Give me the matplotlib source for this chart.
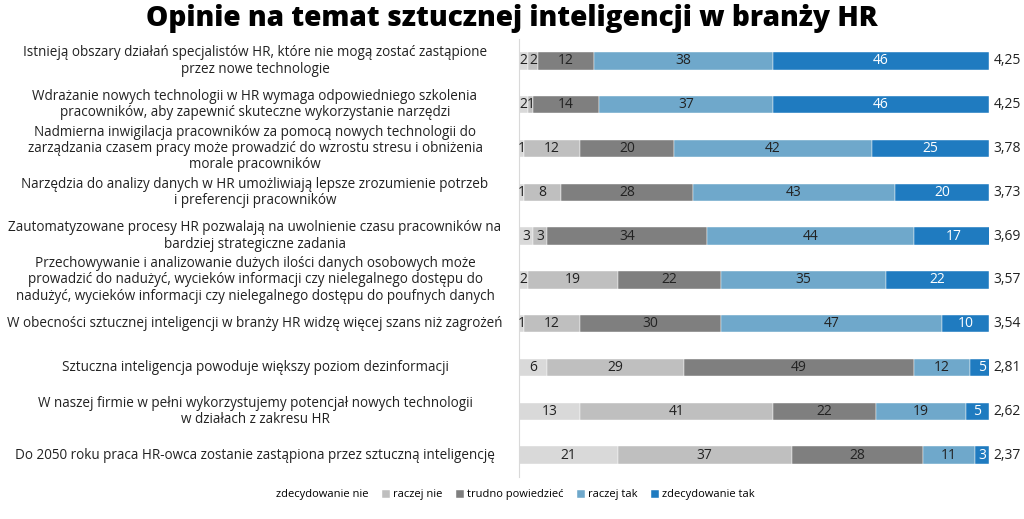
import matplotlib.pyplot as plt
from matplotlib import transforms

plt.rcParams['font.family'] = ['Open Sans', 'DejaVu Sans']

statements = [
    "Istnieją obszary działań specjalistów HR, które nie mogą zostać zastąpione\nprzez nowe technologie",
    "Wdrażanie nowych technologii w HR wymaga odpowiedniego szkolenia\npracowników, aby zapewnić skuteczne wykorzystanie narzędzi",
    "Nadmierna inwigilacja pracowników za pomocą nowych technologii do\nzarządzania czasem pracy może prowadzić do wzrostu stresu i obniżenia\nmorale pracowników",
    "Narzędzia do analizy danych w HR umożliwiają lepsze zrozumienie potrzeb\ni preferencji pracowników",
    "Zautomatyzowane procesy HR pozwalają na uwolnienie czasu pracowników na\nbardziej strategiczne zadania",
    "Przechowywanie i analizowanie dużych ilości danych osobowych może\nprowadzić do nadużyć, wycieków informacji czy nielegalnego dostępu do\nnadużyć, wycieków informacji czy nielegalnego dostępu do poufnych danych",
    "W obecności sztucznej inteligencji w branży HR widzę więcej szans niż zagrożeń",
    "Sztuczna inteligencja powoduje większy poziom dezinformacji",
    "W naszej firmie w pełni wykorzystujemy potencjał nowych technologii\nw działach z zakresu HR",
    "Do 2050 roku praca HR-owca zostanie zastąpiona przez sztuczną inteligencję",
]

categories = ["zdecydowanie nie", "raczej nie", "trudno powiedzieć", "raczej tak", "zdecydowanie tak"]

zdecydowanie_nie = [2, 2, 1, 1, 3, 2, 1, 6, 13, 21]
raczej_nie = [2, 1, 12, 8, 3, 19, 12, 29, 41, 37]
trudno_powiedziec = [12, 14, 20, 28, 34, 22, 30, 49, 22, 28]
raczej_tak = [38, 37, 42, 43, 44, 35, 47, 12, 19, 11]
zdecydowanie_tak = [46, 46, 25, 20, 17, 22, 10, 5, 5, 3]

means = ["4,25", "4,25", "3,78", "3,73", "3,69", "3,57", "3,54", "2,81", "2,62", "2,37"]

colors = ["#d9d9d9", "#bfbfbf", "#7f7f7f", "#6fa8cb", "#1f7bc0"]
text_colors = ["#222222", "#222222", "#222222", "#222222", "white"]

series = [zdecydowanie_nie, raczej_nie, trudno_powiedziec, raczej_tak, zdecydowanie_tak]

fig = plt.figure(figsize=(10.24, 5.19), dpi=100)
ax = fig.add_axes([519 / 1024, 1 - 477 / 519, 470 / 1024, 438 / 519])

ypos = list(range(len(statements)))
left = [0] * len(statements)
for k, vals in enumerate(series):
    ax.barh(ypos, vals, left=left, height=0.4, color=colors[k],
            edgecolor='white', linewidth=0.3, label=categories[k])
    for i, v in enumerate(vals):
        ax.text(left[i] + v / 2, i, str(v), ha='center', va='center',
                fontsize=10, color=text_colors[k])
    left = [l + v for l, v in zip(left, vals)]

for i, m in enumerate(means):
    ax.text(101, i, m, ha='left', va='center', fontsize=10, color='#222222')

ax.set_xlim(0, 100)
ax.set_ylim(9.5, -0.5)
ax.set_xticks([])
ax.set_yticks([])
for s in ['top', 'right', 'bottom']:
    ax.spines[s].set_visible(False)
ax.spines['left'].set_color('#d9d9d9')

trans = transforms.blended_transform_factory(fig.transFigure, ax.transData)
for i, lab in enumerate(statements):
    fig.text(255 / 1024, i, lab, transform=trans, ha='center', va='center',
             multialignment='center', fontsize=9.75, linespacing=1.12, color='#222222')

fig.text(0.5, 0.965, "Opinie na temat sztucznej inteligencji w branży HR",
         ha='center', va='center', fontsize=20.2, fontweight='heavy', color='black')

leg = fig.legend(loc='center', bbox_to_anchor=(510 / 1024, 1 - 495 / 519), ncol=5,
                 frameon=False, fontsize=8, handlelength=0.7, handleheight=0.7,
                 handletextpad=0.3, columnspacing=1.2)
leg.legend_handles[0].set_facecolor('white')
leg.legend_handles[0].set_edgecolor('white')

fig.savefig('out.png', dpi=100)
